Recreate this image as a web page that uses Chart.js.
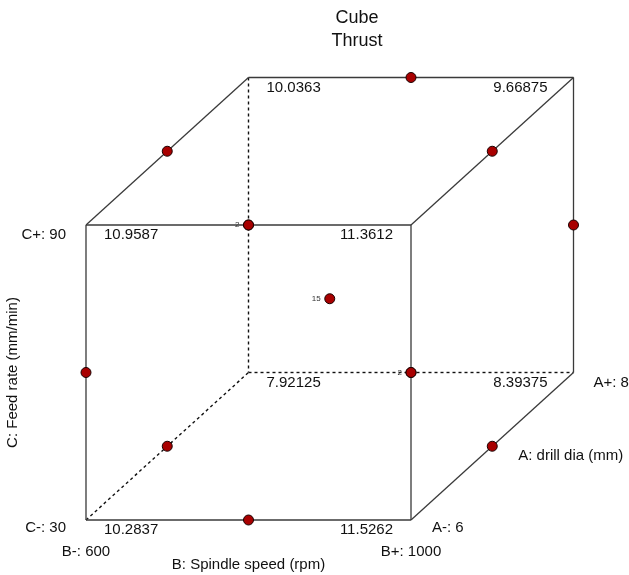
<!DOCTYPE html>
<html>
<head>
<meta charset="utf-8">
<script src="https://cdn.jsdelivr.net/npm/chart.js@4"></script>
<style>
  html, body { margin: 0; padding: 0; background: #fff; overflow: hidden; }
  canvas { display: block; }
</style>
</head>
<body>
<canvas id="cube" width="629" height="575"></canvas>
<script>
// ---- Data ---------------------------------------------------------------
const chartTitle = ['Cube', 'Thrust'];

// Factors A, B, C with their low / high settings
const factorLetters = ['A', 'B', 'C'];
const factorNames = ['A: drill dia (mm)', 'B: Spindle speed (rpm)', 'C: Feed rate (mm/min)'];
const factorLow = [6, 600, 30];
const factorHigh = [8, 1000, 90];

// Cube corners in coded units [A, B, C] and the predicted thrust at each
const cornerCoded = [
  [-1, -1,  1], [-1,  1,  1], [-1, -1, -1], [-1,  1, -1],
  [ 1, -1,  1], [ 1,  1,  1], [ 1, -1, -1], [ 1,  1, -1]
];
const cornerThrust = [10.9587, 11.3612, 10.2837, 11.5262, 10.0363, 9.66875, 7.92125, 8.39375];

// Design runs (Box-Behnken: edge midpoints + centre) and number of runs at each
const runCoded = [
  [ 0, -1,  1], [ 0,  1,  1], [ 0, -1, -1], [ 0,  1, -1],
  [-1,  0,  1], [-1,  0, -1], [ 1,  0,  1], [ 1,  0, -1],
  [-1, -1,  0], [-1,  1,  0], [ 1, -1,  0], [ 1,  1,  0],
  [ 0,  0,  0]
];
const runCount = [1, 1, 1, 1, 1, 1, 1, 1, 1, 1, 1, 1, 15];

// ---- Oblique projection of coded (A, B, C) onto the chart plane ---------
// A runs into the page (up and to the right), B across, C upward.
const depth = 1;
function project(p) {
  const a = (p[0] + 1) / 2;
  return { x: p[1] + a * depth, y: p[2] + a * depth };
}

// Corner that sits behind the cube: its edges are drawn dashed
const hiddenCorner = [1, -1, -1];
const sameCorner = (p, q) => p[0] === q[0] && p[1] === q[1] && p[2] === q[2];

const solidEdges = [];
const dashedEdges = [];
for (let i = 0; i < cornerCoded.length; i++) {
  for (let j = i + 1; j < cornerCoded.length; j++) {
    const p = cornerCoded[i], q = cornerCoded[j];
    const diff = p.reduce((n, v, k) => n + (v !== q[k] ? 1 : 0), 0);
    if (diff !== 1) continue;
    const seg = [project(p), project(q)];
    (sameCorner(p, hiddenCorner) || sameCorner(q, hiddenCorner) ? dashedEdges : solidEdges).push(seg);
  }
}

const edgeColor = '#3a3a3a';
const datasets = [{
  label: 'runs',
  data: runCoded.map(project),
  pointRadius: 5,
  pointHoverRadius: 5,
  pointBackgroundColor: '#a80000',
  pointBorderColor: '#1a0000',
  pointBorderWidth: 1,
  showLine: false,
  order: 0,
  clip: false
}];
solidEdges.forEach(seg => datasets.push({
  data: seg, showLine: true, pointRadius: 0, borderColor: edgeColor,
  borderWidth: 1.3, order: 1, clip: false
}));
dashedEdges.forEach(seg => datasets.push({
  data: seg, showLine: true, pointRadius: 0, borderColor: '#111',
  borderWidth: 1.4, borderDash: [3, 3], order: 1, clip: false
}));

// ---- Text drawn on top of the cube --------------------------------------
const FONT = '"Liberation Sans", Arial, Helvetica, sans-serif';

const cubeText = {
  id: 'cubeText',
  afterDatasetsDraw(chart) {
    const { ctx, scales } = chart;
    const px = p => { const q = project(p); return { x: scales.x.getPixelForValue(q.x), y: scales.y.getPixelForValue(q.y) }; };
    const text = (s, x, y, align, size, color) => {
      ctx.font = size + 'px ' + FONT;
      ctx.fillStyle = color || '#111';
      ctx.textAlign = align;
      ctx.textBaseline = 'middle';
      ctx.fillText(s, x, y);
    };
    ctx.save();

    // title
    text(chartTitle[0], 357, 18, 'center', 18);
    text(chartTitle[1], 357, 41, 'center', 18);

    // predicted thrust at each corner
    cornerCoded.forEach((p, i) => {
      const c = px(p);
      const left = p[1] < 0;
      const inset = p[0] < 0 ? 18 : 26;
      text(String(cornerThrust[i]), left ? c.x + 18 : c.x - inset, c.y + 10, left ? 'left' : 'right', 15);
    });

    // run counts where more than one run lands on the same spot
    const groups = new Map();
    runCoded.forEach((p, i) => {
      const c = px(p);
      const key = Math.round(c.x) + ',' + Math.round(c.y);
      const g = groups.get(key) || { x: c.x, y: c.y, n: 0 };
      g.n += runCount[i];
      groups.set(key, g);
    });
    groups.forEach(g => {
      if (g.n > 1) text(String(g.n), g.x - 9, g.y, 'right', 8, '#333');
    });

    // factor levels
    const fTL = px([-1, -1, 1]), fBL = px([-1, -1, -1]), fBR = px([-1, 1, -1]), bBR = px([1, 1, -1]);
    text(factorLetters[2] + '+: ' + factorHigh[2], fTL.x - 20, fTL.y + 10, 'right', 15);
    text(factorLetters[2] + '-: ' + factorLow[2], fBL.x - 20, fBL.y + 8, 'right', 15);
    text(factorLetters[1] + '-: ' + factorLow[1], fBL.x, fBL.y + 32, 'center', 15);
    text(factorLetters[1] + '+: ' + factorHigh[1], fBR.x, fBR.y + 32, 'center', 15);
    text(factorLetters[0] + '-: ' + factorLow[0], fBR.x + 21, fBR.y + 8, 'left', 15);
    text(factorLetters[0] + '+: ' + factorHigh[0], bBR.x + 20, bBR.y + 10, 'left', 15);

    // factor names
    const diagMid = px([0, 1, -1]);
    text(factorNames[0], diagMid.x + 26, diagMid.y + 10, 'left', 15);
    text(factorNames[1], (fBL.x + fBR.x) / 2, fBL.y + 45, 'center', 15);
    ctx.translate(13, (fTL.y + fBL.y) / 2);
    ctx.rotate(-Math.PI / 2);
    text(factorNames[2], 0, 0, 'center', 15);

    ctx.restore();
  }
};

new Chart(document.getElementById('cube'), {
  type: 'scatter',
  data: { datasets },
  options: {
    responsive: false,
    animation: false,
    events: [],
    layout: { padding: 0, autoPadding: false },
    plugins: { legend: { display: false }, tooltip: { enabled: false }, title: { display: false } },
    scales: {
      // 162.5 px per coded unit across, 147.5 px per coded unit upward
      x: { type: 'linear', display: false, min: -1.5292, max: 2.3415 },
      y: { type: 'linear', display: false, min: -1.3729, max: 2.5254 }
    }
  },
  plugins: [cubeText]
});
</script>
</body>
</html>
